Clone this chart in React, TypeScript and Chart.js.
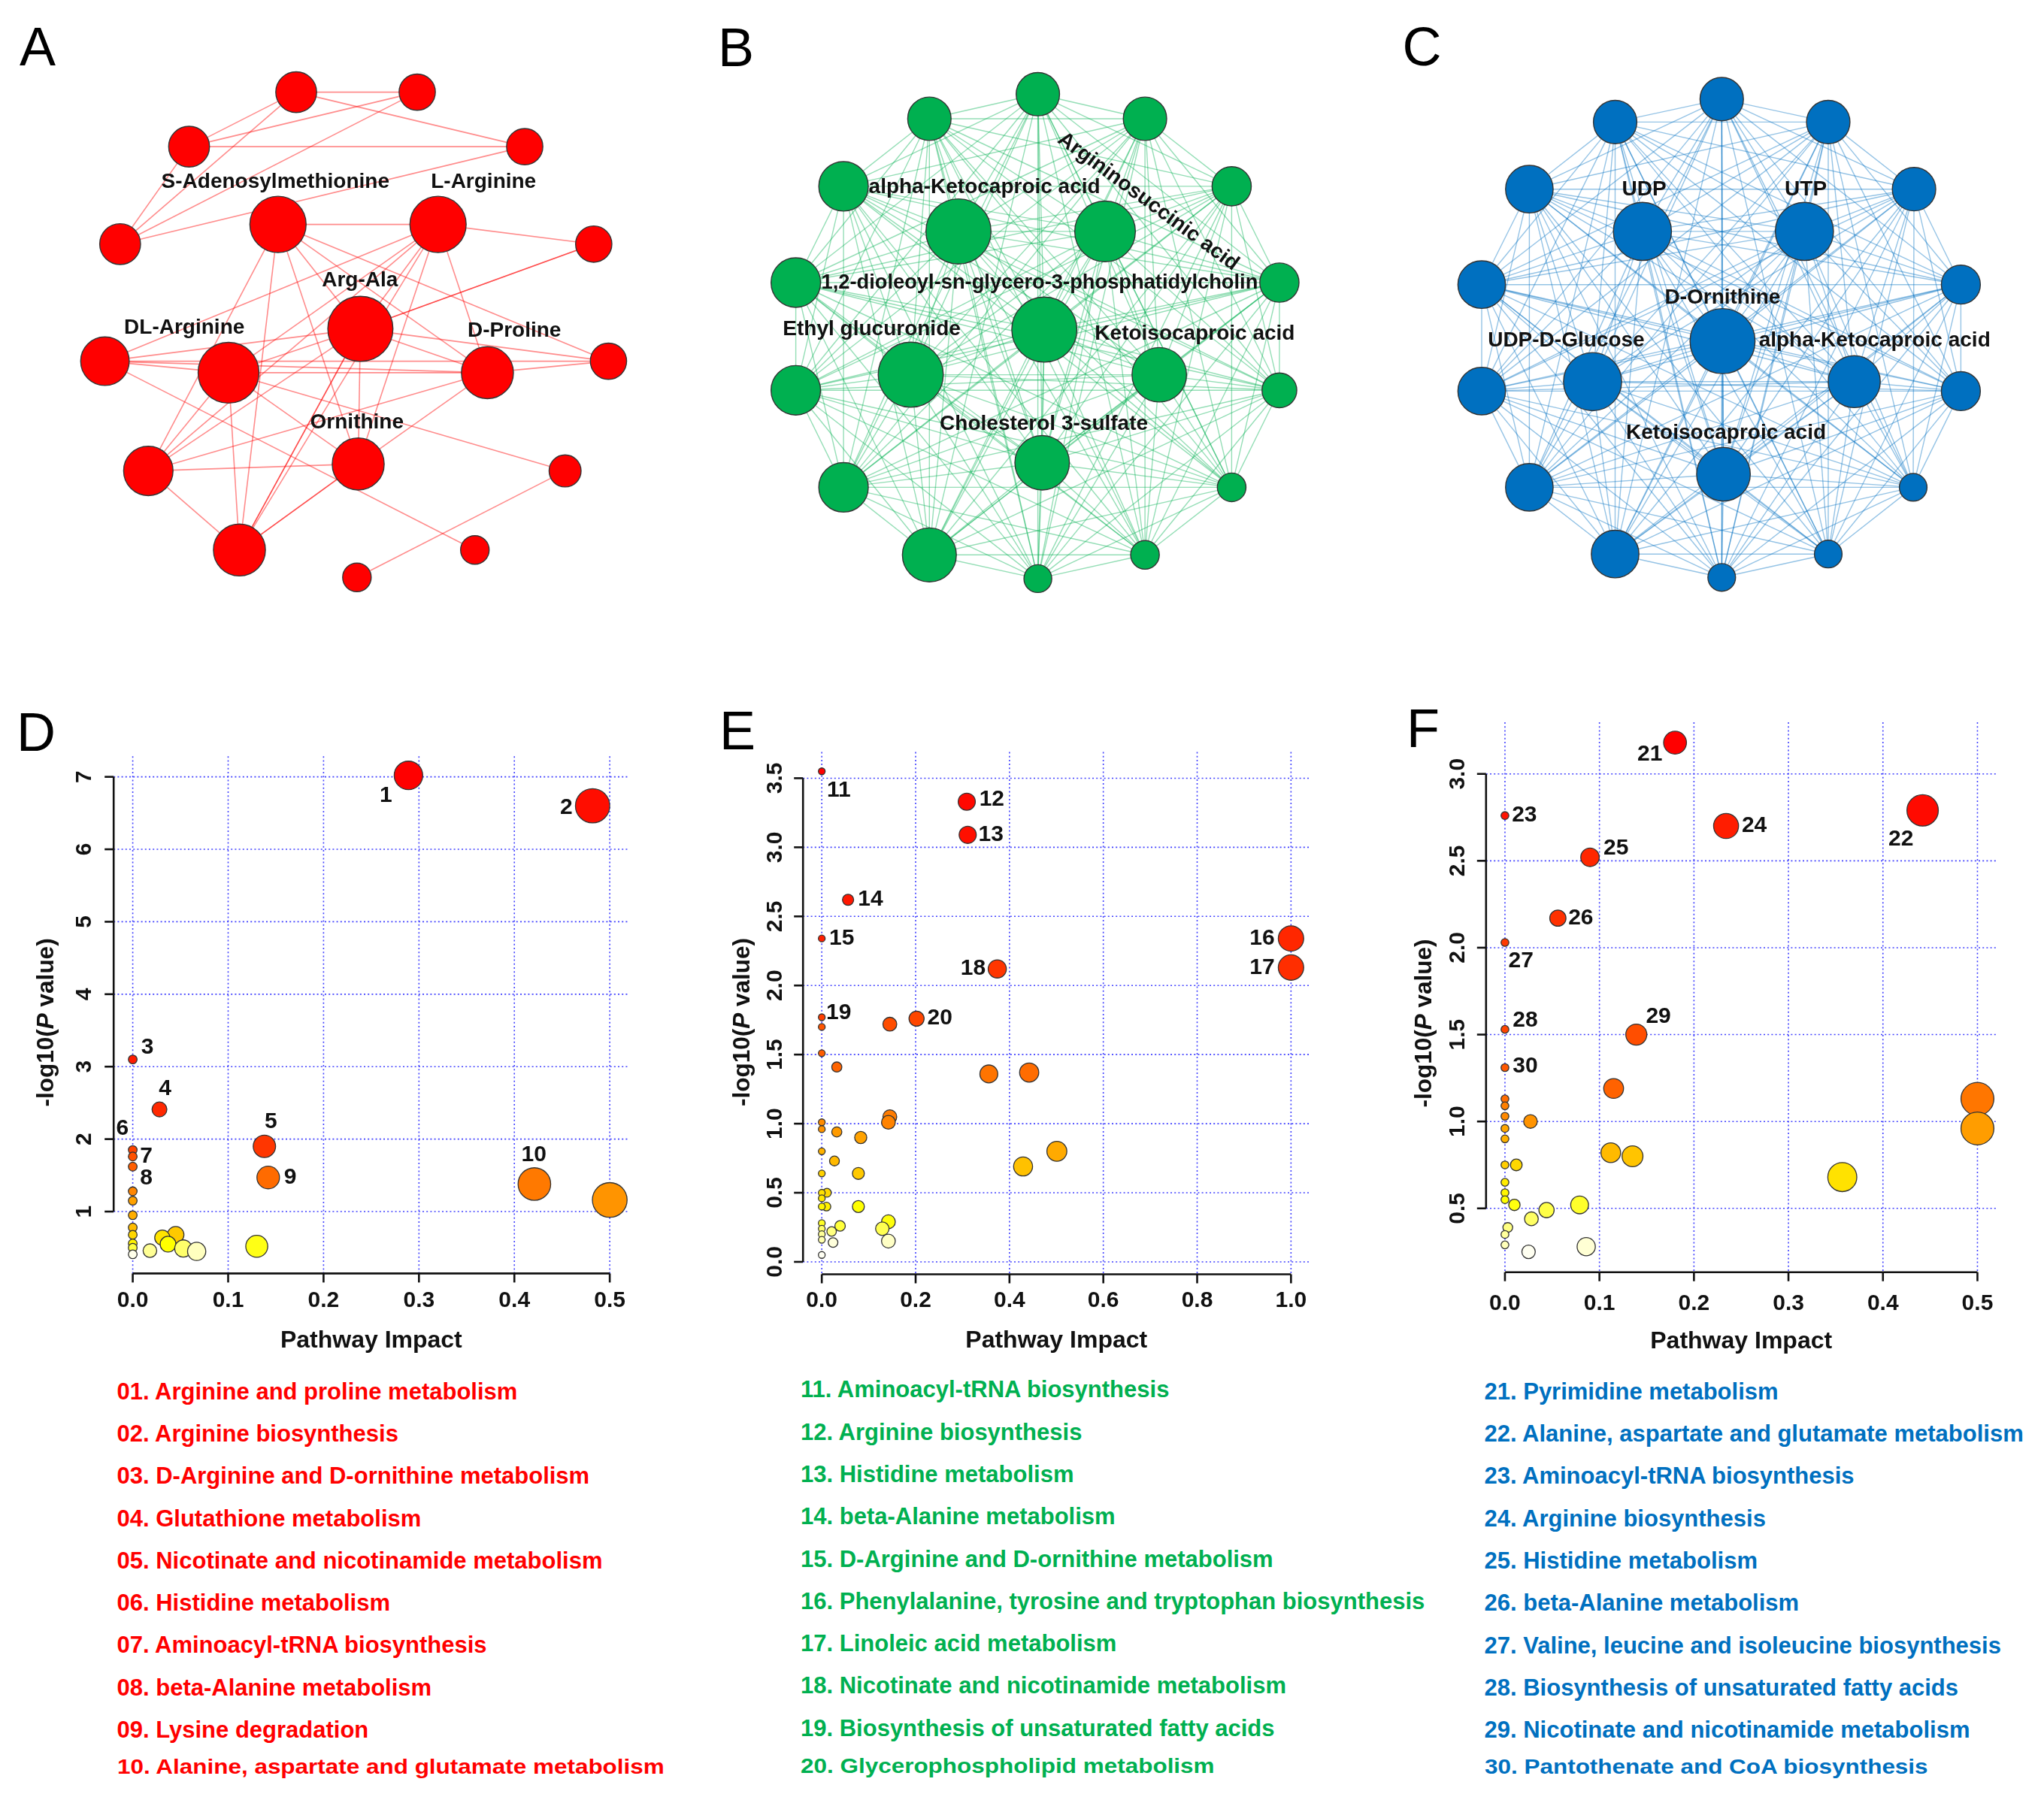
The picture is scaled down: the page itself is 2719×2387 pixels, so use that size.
import React, { useEffect, useRef } from 'react';
import { Chart, registerables } from 'chart.js';

Chart.register(...registerables);

const FONT = '"Liberation Sans", Arial, Helvetica, sans-serif';

// ======================= DATA =======================

// ---- Panel A: network (layout coordinates, node weight, edges) ----
const A_nodeX = [394.0, 555.0, 251.5, 698.0, 159.8, 369.8, 582.7, 789.8, 479.4, 139.6, 304.0, 648.4, 809.4, 197.3, 476.5, 751.7, 318.5, 631.7, 474.8];
const A_nodeY = [122.6, 122.6, 195.1, 195.1, 324.8, 298.6, 298.6, 324.8, 437.6, 480.6, 495.9, 495.9, 480.6, 626.6, 617.4, 626.6, 731.8, 731.8, 768.3];
const A_nodeWeight = [1.43, 1.27, 1.43, 1.27, 1.43, 1.97, 1.97, 1.27, 2.28, 1.7, 2.13, 1.82, 1.27, 1.73, 1.82, 1.12, 1.82, 1.0, 1.0];
const A_edges = [
  [0, 1], [0, 2], [0, 3], [0, 4], [1, 2], [1, 4], [2, 3], [2, 4], [3, 4],
  [5, 6], [5, 8], [5, 11], [5, 12], [5, 13], [5, 14], [5, 16],
  [6, 7], [6, 8], [6, 9], [6, 10], [6, 11], [6, 13], [6, 14], [6, 16],
  [7, 8], [7, 8], [8, 9], [8, 10], [8, 11], [8, 12], [8, 13], [8, 14], [8, 16], [8, 16],
  [9, 10], [9, 11], [9, 12], [9, 17],
  [10, 11], [10, 13], [10, 14], [10, 15], [10, 16],
  [11, 12], [11, 13], [11, 14],
  [13, 14], [13, 16], [14, 16], [14, 16], [15, 18],
];
const A_labelNodes = [5, 6, 8, 10, 11, 14];
const A_labels = ['S-Adenosylmethionine', 'L-Arginine', 'Arg-Ala', 'DL-Arginine', 'D-Proline', 'Ornithine'];

// ---- Panel B: network ----
const B_nodeX = [1380.6, 1523.1, 1638.4, 1701.9, 1701.9, 1638.4, 1523.1, 1380.6, 1236.3, 1122.1, 1058.6, 1058.6, 1122.1, 1236.3, 1275.0, 1470.0, 1389.2, 1211.5, 1542.1, 1386.3];
const B_nodeY = [125.3, 158.0, 247.9, 376.0, 519.3, 648.4, 738.3, 769.9, 738.3, 648.4, 519.3, 376.0, 247.9, 158.0, 307.9, 307.9, 438.6, 498.6, 498.6, 615.7];
const B_nodeWeight = [1.56, 1.56, 1.41, 1.41, 1.25, 1.03, 1.03, 1.0, 1.94, 1.78, 1.78, 1.78, 1.78, 1.56, 2.34, 2.18, 2.34, 2.34, 1.96, 1.96];
const B_labelNodes = [14, 15, 16, 17, 18, 19];
const B_labels = ['alpha-Ketocaproic acid', 'Argininosuccinic acid', '1,2-dioleoyl-sn-glycero-3-phosphatidylcholin', 'Ethyl glucuronide', 'Ketoisocaproic acid', 'Cholesterol 3-sulfate'];

// ---- Panel C: network ----
const C_nodeX = [2290.3, 2432.0, 2546.1, 2608.4, 2608.4, 2545.0, 2432.0, 2290.3, 2148.5, 2034.4, 1971.0, 1971.0, 2034.4, 2148.5, 2184.8, 2400.3, 2291.4, 2118.5, 2466.6, 2292.6];
const C_nodeY = [131.9, 162.4, 251.7, 378.7, 520.4, 648.4, 737.2, 768.3, 737.2, 648.4, 520.4, 378.7, 251.7, 162.4, 307.9, 307.9, 453.9, 507.8, 507.8, 631.0];
const C_nodeWeight = [1.57, 1.57, 1.57, 1.41, 1.41, 1.0, 1.0, 1.0, 1.72, 1.72, 1.72, 1.72, 1.72, 1.57, 2.1, 2.1, 2.35, 2.1, 1.88, 1.94];
const C_labelNodes = [14, 15, 16, 17, 18, 19];
const C_labels = ['UDP', 'UTP', 'D-Ornithine', 'UDP-D-Glucose', 'alpha-Ketocaproic acid', 'Ketoisocaproic acid'];

// ---- Panel D: pathway impact vs -log10(P) ----
const D_impact = [0.289, 0.482, 0, 0.028, 0.138, 0, 0, 0, 0.142, 0.421, 0, 0.5, 0, 0, 0, 0.045, 0, 0.031, 0, 0.037, 0.13, 0, 0.053, 0.018, 0.067, 0];
const D_logP = [7.02, 6.6, 3.1, 2.41, 1.9, 1.85, 1.76, 1.62, 1.47, 1.38, 1.28, 1.16, 1.15, 0.95, 0.78, 0.68, 0.68, 0.64, 0.56, 0.55, 0.52, 0.5, 0.49, 0.46, 0.45, 0.41];
const D_ids = ['1', '2', '3', '4', '5', '6', '7', '8', '9', '10'];
const D_xTicks = [0, 0.1, 0.2, 0.3, 0.4, 0.5];
const D_xTickLabels = ['0.0', '0.1', '0.2', '0.3', '0.4', '0.5'];
const D_yTicks = [1, 2, 3, 4, 5, 6, 7];
const D_yTickLabels = ['1', '2', '3', '4', '5', '6', '7'];
const D_legend = [
  '01. Arginine and proline metabolism',
  '02. Arginine biosynthesis',
  '03. D-Arginine and D-ornithine metabolism',
  '04. Glutathione metabolism',
  '05. Nicotinate and nicotinamide metabolism',
  '06. Histidine metabolism',
  '07. Aminoacyl-tRNA biosynthesis',
  '08. beta-Alanine metabolism',
  '09. Lysine degradation',
  '10. Alanine, aspartate and glutamate metabolism',
];

// ---- Panel E ----
const E_impact = [0, 0.309, 0.311, 0.056, 0, 1.0, 1.0, 0.374, 0, 0.202, 0.145, 0, 0, 0.032, 0.442, 0.356, 0.145, 0.142, 0, 0, 0.032, 0.083, 0.501, 0, 0.027, 0.429, 0.078, 0, 0.011, 0, 0, 0.01, 0, 0.078, 0.142, 0, 0.039, 0.129, 0, 0.021, 0, 0, 0.142, 0.024, 0];
const E_logP = [3.55, 3.33, 3.09, 2.62, 2.34, 2.34, 2.13, 2.12, 1.77, 1.76, 1.72, 1.7, 1.51, 1.41, 1.37, 1.36, 1.05, 1.01, 1.01, 0.96, 0.94, 0.9, 0.8, 0.8, 0.73, 0.69, 0.64, 0.64, 0.5, 0.5, 0.46, 0.4, 0.4, 0.4, 0.29, 0.28, 0.26, 0.24, 0.24, 0.22, 0.2, 0.16, 0.15, 0.14, 0.05];
const E_ids = ['11', '12', '13', '14', '15', '16', '17', '18', '19', '20'];
const E_xTicks = [0, 0.2, 0.4, 0.6, 0.8, 1.0];
const E_xTickLabels = ['0.0', '0.2', '0.4', '0.6', '0.8', '1.0'];
const E_yTicks = [0, 0.5, 1.0, 1.5, 2.0, 2.5, 3.0, 3.5];
const E_yTickLabels = ['0.0', '0.5', '1.0', '1.5', '2.0', '2.5', '3.0', '3.5'];
const E_legend = [
  '11. Aminoacyl-tRNA biosynthesis',
  '12. Arginine biosynthesis',
  '13. Histidine metabolism',
  '14. beta-Alanine metabolism',
  '15. D-Arginine and D-ornithine metabolism',
  '16. Phenylalanine, tyrosine and tryptophan biosynthesis',
  '17. Linoleic acid metabolism',
  '18. Nicotinate and nicotinamide metabolism',
  '19. Biosynthesis of unsaturated fatty acids',
  '20. Glycerophospholipid metabolism',
];

// ---- Panel F ----
const F_impact = [0.18, 0.442, 0, 0.234, 0.09, 0.056, 0, 0, 0.139, 0, 0.115, 0, 0.5, 0, 0, 0.027, 0.5, 0, 0, 0.112, 0.135, 0, 0.012, 0.357, 0, 0, 0, 0.01, 0.079, 0.044, 0.028, 0.003, 0, 0, 0.086, 0.025];
const F_logP = [3.18, 2.79, 2.76, 2.7, 2.52, 2.17, 2.03, 1.53, 1.5, 1.31, 1.19, 1.13, 1.13, 1.09, 1.03, 1.0, 0.96, 0.96, 0.9, 0.82, 0.8, 0.75, 0.75, 0.68, 0.65, 0.59, 0.55, 0.52, 0.52, 0.49, 0.44, 0.39, 0.35, 0.29, 0.28, 0.25];
const F_ids = ['21', '22', '23', '24', '25', '26', '27', '28', '29', '30'];
const F_xTicks = [0, 0.1, 0.2, 0.3, 0.4, 0.5];
const F_xTickLabels = ['0.0', '0.1', '0.2', '0.3', '0.4', '0.5'];
const F_yTicks = [0.5, 1.0, 1.5, 2.0, 2.5, 3.0];
const F_yTickLabels = ['0.5', '1.0', '1.5', '2.0', '2.5', '3.0'];
const F_legend = [
  '21. Pyrimidine metabolism',
  '22. Alanine, aspartate and glutamate metabolism',
  '23. Aminoacyl-tRNA biosynthesis',
  '24. Arginine biosynthesis',
  '25. Histidine metabolism',
  '26. beta-Alanine metabolism',
  '27. Valine, leucine and isoleucine biosynthesis',
  '28. Biosynthesis of unsaturated fatty acids',
  '29. Nicotinate and nicotinamide metabolism',
  '30. Pantothenate and CoA biosynthesis',
];

// ======================= STYLE / LAYOUT =======================

const NET_A = {
  rect: [0, 0, 900, 850], fill: '#FF0000', edge: 'rgba(255,0,0,0.45)', edgeWidth: 1.6, unit: 19,
  labelOffsets: [[-3.5, -56], [60.5, -56], [-0.6, -64.3], [-58.8, -60], [35.8, -55.6], [-1.7, -55.1]],
  labelRot: [0, 0, 0, 0, 0, 0], labelSize: [28, 28, 28, 28, 28, 28],
};
const NET_B = {
  rect: [900, 0, 920, 850], fill: '#00B050', edge: 'rgba(0,176,80,0.42)', edgeWidth: 1.4, unit: 18.5,
  labelOffsets: [[34.6, -58.9], [57.4, -39.5], [-6.3, -62.6], [-51.9, -60], [47.3, -54.5], [2.3, -51.7]],
  labelRot: [0, 36.3, 0, 0, 0, 0], labelSize: [28, 28, 27.3, 28, 28, 28],
};
const NET_C = {
  rect: [1820, 0, 899, 850], fill: '#0070C0', edge: 'rgba(0,112,192,0.42)', edgeWidth: 1.4, unit: 18.4,
  labelOffsets: [[2.3, -55.6], [1.8, -55.6], [0, -57.8], [-35.1, -54.4], [27.1, -54.4], [3.4, -55]],
  labelRot: [0, 0, 0, 0, 0, 0], labelSize: [28, 28, 28, 28, 28, 28],
};

const PLOT_D = {
  rect: [0, 930, 930, 880], area: [151.2, 1006.2, 836.5, 1694.4],
  xLabelGap: 36.6, yLabelGap: 38.7, yTitleGap: 88.9, yTitleRise: 334, xTitleGap: 90,
  rMin: 5.8, rMax: 23.1,
  idOffsets: [[-30, 27], [-35, 3], [19.6, -15.8], [7.5, -27.1], [8.7, -32.7], [-13.8, -28.8], [17.9, 0], [17.9, 15.2], [29.4, 0], [-0.6, -38.4]],
};
const PLOT_E = {
  rect: [930, 930, 890, 880], area: [1068.2, 1000.5, 1742.3, 1695.5],
  xLabelGap: 35.5, yLabelGap: 36.7, yTitleGap: 80.1, yTitleRise: 335.5, xTitleGap: 89,
  rMin: 4.5, rMax: 16.9,
  idOffsets: [[22.6, 25.4], [33.3, -2.8], [31, 0], [29.9, 0], [26.5, 0], [-38.4, 0], [-38.4, 0], [-32.2, 0], [22.6, -5.6], [31, -1.1]],
};
const PLOT_F = {
  rect: [1820, 930, 899, 880], area: [1976.8, 961.0, 2655.6, 1692.7],
  xLabelGap: 42.5, yLabelGap: 36.9, yTitleGap: 81.9, yTitleRise: 331.2, xTitleGap: 92,
  rMin: 5.2, rMax: 21.9,
  idOffsets: [[-33.4, 15.2], [-28.8, 38.4], [25.9, 0], [37.5, 0], [34.6, -12.4], [30.5, 0], [21.3, 24.8], [27.1, -11.8], [29.4, -24.3], [27.1, -1.7]],
};

const GRID_COLOR = 'rgba(45,45,255,0.9)';

// ======================= HELPERS =======================

function allPairs(n: number): number[][] {
  const out: number[][] = [];
  for (let a = 0; a < n; a++) for (let b = a + 1; b < n; b++) out.push([a, b]);
  return out;
}

function hsvHex(h: number, s: number, v: number): string {
  const f = h * 6;
  const r = v, g = v * (1 - s * (1 - f)), b = v * (1 - s);
  const c = (t: number) => Math.round(Math.max(0, Math.min(1, t)) * 255).toString(16).padStart(2, '0');
  return '#' + c(r) + c(g) + c(b);
}

// R's heat.colors(n)
function heatColors(n: number): string[] {
  const j = Math.floor(n / 4);
  const i = n - j;
  const out: string[] = [];
  for (let k = 0; k < i; k++) out.push(hsvHex(i > 1 ? (k / (i - 1)) / 6 : 0, 1, 1));
  const from = 1 - 1 / (2 * j), to = 1 / (2 * j);
  for (let k = 0; k < j; k++) {
    const s = j > 1 ? from + ((to - from) * k) / (j - 1) : from;
    out.push(hsvHex(1 / 6, s, 1));
  }
  return out;
}

function rankColors(values: number[]): string[] {
  const order = values.map((_, i) => i).sort((a, b) => values[b] - values[a]);
  const pal = heatColors(values.length);
  const out: string[] = new Array(values.length);
  order.forEach((idx, r) => { out[idx] = pal[r]; });
  return out;
}

function extend(vals: number[]): [number, number] {
  const lo = Math.min(...vals), hi = Math.max(...vals);
  const d = (hi - lo) * 0.04;
  return [lo - d, hi + d];
}

// ======================= CHART BUILDERS =======================

function networkConfig(xs: number[], ys: number[], w: number[], edges: number[][], labelNodes: number[], labels: string[], st: any) {
  const [left, top, width, height] = st.rect;
  const plugin = {
    id: 'networkEdges',
    beforeDatasetsDraw(chart: any) {
      const { ctx } = chart;
      const sx = chart.scales.x, sy = chart.scales.y;
      ctx.save();
      ctx.strokeStyle = st.edge;
      ctx.lineWidth = st.edgeWidth;
      edges.forEach(([a, b]) => {
        ctx.beginPath();
        ctx.moveTo(sx.getPixelForValue(xs[a]), sy.getPixelForValue(ys[a]));
        ctx.lineTo(sx.getPixelForValue(xs[b]), sy.getPixelForValue(ys[b]));
        ctx.stroke();
      });
      ctx.restore();
    },
    afterDatasetsDraw(chart: any) {
      const { ctx } = chart;
      const sx = chart.scales.x, sy = chart.scales.y;
      ctx.save();
      ctx.fillStyle = '#111';
      ctx.textAlign = 'center';
      ctx.textBaseline = 'middle';
      labelNodes.forEach((n, i) => {
        const px = sx.getPixelForValue(xs[n]) + st.labelOffsets[i][0];
        const py = sy.getPixelForValue(ys[n]) + st.labelOffsets[i][1];
        ctx.font = `bold ${st.labelSize[i]}px ${FONT}`;
        ctx.save();
        ctx.translate(px, py);
        ctx.rotate((st.labelRot[i] * Math.PI) / 180);
        ctx.fillText(labels[i], 0, 0);
        ctx.restore();
      });
      ctx.restore();
    },
  };
  return {
    type: 'scatter',
    data: {
      datasets: [{
        data: xs.map((x, i) => ({ x, y: ys[i] })),
        pointRadius: w.map((v) => v * st.unit),
        pointHoverRadius: w.map((v) => v * st.unit),
        pointBackgroundColor: st.fill,
        pointBorderColor: '#333',
        pointBorderWidth: 1.4,
        clip: false,
      }],
    },
    options: {
      animation: false,
      responsive: false,
      events: [],
      layout: { padding: 0, autoPadding: false },
      plugins: { legend: { display: false }, tooltip: { enabled: false } },
      scales: {
        x: { type: 'linear', display: false, min: left, max: left + width },
        y: { type: 'linear', display: false, min: top, max: top + height, reverse: true },
      },
    },
    plugins: [plugin],
  };
}

function impactConfig(impact: number[], logP: number[], ids: string[], xTicks: number[], xTickLabels: string[], yTicks: number[], yTickLabels: string[], st: any) {
  const [cl, ct, cw, ch] = st.rect;
  const [al, at, ar, ab] = st.area;
  const [xMin, xMax] = extend(impact);
  const [yMin, yMax] = extend(logP);
  const colors = rankColors(logP);
  const maxImpact = Math.max(...impact);
  const radii = impact.map((v) => st.rMin + (st.rMax - st.rMin) * Math.sqrt(v / maxImpact));
  const plugin = {
    id: 'rAxes',
    beforeDatasetsDraw(chart: any) {
      const { ctx, chartArea: ca } = chart;
      const sx = chart.scales.x, sy = chart.scales.y;
      const line = (x1: number, y1: number, x2: number, y2: number) => {
        ctx.beginPath(); ctx.moveTo(x1, y1); ctx.lineTo(x2, y2); ctx.stroke();
      };
      ctx.save();
      // dotted grid
      ctx.strokeStyle = GRID_COLOR;
      ctx.lineWidth = 1.6;
      ctx.setLineDash([2, 3.2]);
      xTicks.forEach((v) => { const X = sx.getPixelForValue(v); line(X, ca.top, X, ca.bottom); });
      yTicks.forEach((v) => { const Y = sy.getPixelForValue(v); line(ca.left, Y, ca.right, Y); });
      ctx.setLineDash([]);
      // axes
      ctx.strokeStyle = '#111';
      ctx.lineWidth = 2.6;
      const x0 = sx.getPixelForValue(xTicks[0]), x1 = sx.getPixelForValue(xTicks[xTicks.length - 1]);
      line(x0, ca.bottom, x1, ca.bottom);
      xTicks.forEach((v) => { const X = sx.getPixelForValue(v); line(X, ca.bottom, X, ca.bottom + 12); });
      const y0 = sy.getPixelForValue(yTicks[0]), y1 = sy.getPixelForValue(yTicks[yTicks.length - 1]);
      line(ca.left, y0, ca.left, y1);
      yTicks.forEach((v) => { const Y = sy.getPixelForValue(v); line(ca.left, Y, ca.left - 12, Y); });
      // tick labels
      ctx.fillStyle = '#111';
      ctx.font = `bold 30px ${FONT}`;
      ctx.textAlign = 'center';
      ctx.textBaseline = 'middle';
      xTicks.forEach((v, i) => ctx.fillText(xTickLabels[i], sx.getPixelForValue(v), ca.bottom + st.xLabelGap));
      yTicks.forEach((v, i) => {
        ctx.save();
        ctx.translate(ca.left - st.yLabelGap, sy.getPixelForValue(v));
        ctx.rotate(-Math.PI / 2);
        ctx.fillText(yTickLabels[i], 0, 0);
        ctx.restore();
      });
      // x title
      ctx.font = `bold 32px ${FONT}`;
      ctx.fillText('Pathway Impact', (ca.left + ca.right) / 2, ca.bottom + st.xTitleGap);
      // y title with italic P
      const parts: [string, string][] = [
        ['-log10(', `bold 31.5px ${FONT}`],
        ['P', `italic bold 31.5px ${FONT}`],
        [' value)', `bold 31.5px ${FONT}`],
      ];
      let total = 0;
      const widths = parts.map(([t, f]) => { ctx.font = f; const m = ctx.measureText(t).width; total += m; return m; });
      ctx.save();
      ctx.translate(ca.left - st.yTitleGap, ca.bottom - st.yTitleRise);
      ctx.rotate(-Math.PI / 2);
      ctx.textAlign = 'left';
      let cx = -total / 2;
      parts.forEach(([t, f], i) => { ctx.font = f; ctx.fillText(t, cx, 0); cx += widths[i]; });
      ctx.restore();
      ctx.restore();
    },
    afterDatasetsDraw(chart: any) {
      const { ctx } = chart;
      const sx = chart.scales.x, sy = chart.scales.y;
      ctx.save();
      ctx.fillStyle = '#111';
      ctx.font = `bold 30px ${FONT}`;
      ctx.textAlign = 'center';
      ctx.textBaseline = 'middle';
      ids.forEach((t, i) => {
        const px = sx.getPixelForValue(impact[i]) + st.idOffsets[i][0];
        const py = sy.getPixelForValue(logP[i]) + st.idOffsets[i][1];
        ctx.fillText(t, px, py);
      });
      ctx.restore();
    },
  };
  return {
    type: 'scatter',
    data: {
      datasets: [{
        data: impact.map((x, i) => ({ x, y: logP[i] })),
        pointRadius: radii,
        pointHoverRadius: radii,
        pointBackgroundColor: colors,
        pointBorderColor: '#333',
        pointBorderWidth: 1.3,
        clip: false,
      }],
    },
    options: {
      animation: false,
      responsive: false,
      events: [],
      layout: { padding: { left: al - cl, top: at - ct, right: cl + cw - ar, bottom: ct + ch - ab }, autoPadding: false },
      plugins: { legend: { display: false }, tooltip: { enabled: false } },
      scales: {
        x: { type: 'linear', display: false, min: xMin, max: xMax, bounds: 'data' },
        y: { type: 'linear', display: false, min: yMin, max: yMax, bounds: 'data' },
      },
    },
    plugins: [plugin],
  };
}

// ======================= COMPONENTS =======================

function ChartCanvas({ rect, make }: { rect: number[]; make: () => any }) {
  const ref = useRef<HTMLCanvasElement | null>(null);
  useEffect(() => {
    if (!ref.current) return;
    const chart = new Chart(ref.current, make());
    return () => chart.destroy();
  }, []);
  return (
    <canvas
      ref={ref}
      width={rect[2]}
      height={rect[3]}
      style={{ position: 'absolute', left: rect[0], top: rect[1], width: rect[2], height: rect[3] }}
    />
  );
}

const LETTERS: [string, number, number][] = [
  ['A', 26, 26], ['B', 955, 27], ['C', 1865.5, 26],
  ['D', 22, 937.6], ['E', 957, 936], ['F', 1871, 932.6],
];

function Legend({ items, color, left, first, step, lastCenter }: { items: string[]; color: string; left: number; first: number; step: number; lastCenter: number }) {
  return (
    <>
      {items.map((t, i) => {
        const last = i === items.length - 1;
        const size = last ? 27 : 31;
        const center = last ? lastCenter : first + step * i;
        const top = center - (last ? 13.2 : 15.2);
        return (
          <div
            key={i}
            style={{
              position: 'absolute', left, top, fontSize: size, lineHeight: `${size}px`, fontWeight: 700,
              color, whiteSpace: 'nowrap', fontFamily: FONT,
              transform: last ? 'scaleX(1.165)' : 'none', transformOrigin: '0 50%',
            }}
          >
            {t}
          </div>
        );
      })}
    </>
  );
}

export default function App() {
  return (
    <div style={{ position: 'absolute', left: 0, top: 0, width: 2719, height: 2387, background: '#fff', overflow: 'hidden', fontFamily: FONT }}>
      <ChartCanvas rect={NET_A.rect} make={() => networkConfig(A_nodeX, A_nodeY, A_nodeWeight, A_edges, A_labelNodes, A_labels, NET_A)} />
      <ChartCanvas rect={NET_B.rect} make={() => networkConfig(B_nodeX, B_nodeY, B_nodeWeight, allPairs(B_nodeX.length), B_labelNodes, B_labels, NET_B)} />
      <ChartCanvas rect={NET_C.rect} make={() => networkConfig(C_nodeX, C_nodeY, C_nodeWeight, allPairs(C_nodeX.length), C_labelNodes, C_labels, NET_C)} />
      <ChartCanvas rect={PLOT_D.rect} make={() => impactConfig(D_impact, D_logP, D_ids, D_xTicks, D_xTickLabels, D_yTicks, D_yTickLabels, PLOT_D)} />
      <ChartCanvas rect={PLOT_E.rect} make={() => impactConfig(E_impact, E_logP, E_ids, E_xTicks, E_xTickLabels, E_yTicks, E_yTickLabels, PLOT_E)} />
      <ChartCanvas rect={PLOT_F.rect} make={() => impactConfig(F_impact, F_logP, F_ids, F_xTicks, F_xTickLabels, F_yTicks, F_yTickLabels, PLOT_F)} />
      {LETTERS.map(([t, l, tp]) => (
        <div key={t} style={{ position: 'absolute', left: l, top: tp, fontSize: 72, lineHeight: '72px', fontWeight: 400, color: '#000', fontFamily: FONT }}>{t}</div>
      ))}
      <Legend items={D_legend} color="#FF0000" left={155.5} first={1851} step={56.25} lastCenter={2351.5} />
      <Legend items={E_legend} color="#00B050" left={1065} first={1848.5} step={56.3} lastCenter={2350} />
      <Legend items={F_legend} color="#0070C0" left={1974.5} first={1851} step={56.3} lastCenter={2351} />
    </div>
  );
}
